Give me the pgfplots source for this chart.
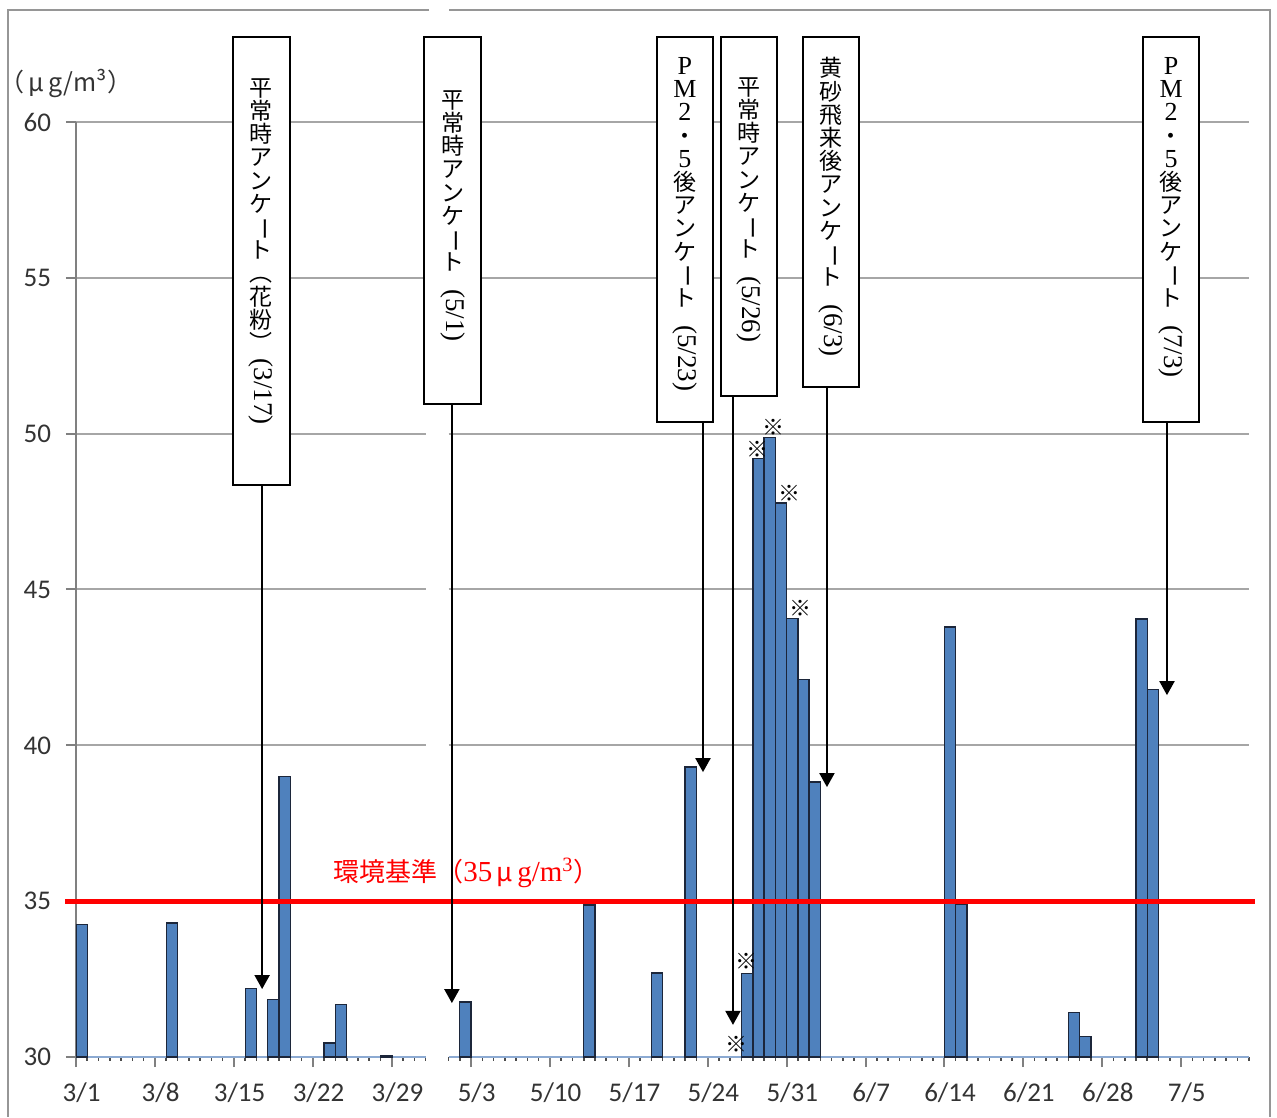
\documentclass[border=0pt]{standalone}
\usepackage{fontspec}
\setmainfont{Carlito}
\newfontfamily\cjk{Noto Sans CJK JP}
\newfontfamily\serif{Liberation Serif}
\usepackage{graphicx}
\usepackage{pgfplots}
\pgfplotsset{compat=1.18}
\usetikzlibrary{arrows.meta}

\definecolor{barblue}{RGB}{79,129,189}
\definecolor{baredge}{RGB}{28,38,58}
\definecolor{gridgray}{RGB}{166,166,166}
\definecolor{baseblue}{RGB}{140,170,210}
\definecolor{framegray}{RGB}{150,150,150}

% vertical writing helpers
\newcommand\vr[1]{\raisebox{0.8em}{\rotatebox{-90}{#1}}}
% rotated latin run, with a gap before it
\newcommand\lat[1]{\raisebox{0.2em}{\rotatebox{-90}{\serif\fontsize{13.5}{14}\selectfont #1}}}
% rotated latin run, tight
\newcommand\latt[1]{\raisebox{0.7em}{\rotatebox{-90}{\serif\fontsize{13.5}{14}\selectfont #1}}}
\newcommand\up[1]{{\serif\fontsize{13}{11.6}\selectfont #1}}

\pgfplotsset{
  common/.style={
    scale only axis, height=467.5pt,
    ymin=30, ymax=60, ytick={30,35,...,60},
    ymajorgrids, major grid style={gridgray, line width=1pt},
    tick align=outside, major tick length=5pt, minor tick length=1.8pt,
    major tick style={gray, line width=1pt},
    minor tick style={black!70, line width=0.8pt},
    axis x line*=bottom, x axis line style={baseblue, line width=1.2pt, -},
    ybar, bar width=1,
    tick label style={font=\fontsize{13.5}{16}\selectfont, text=black!80},
    /pgf/number format/assume math mode=true,
    xticklabel style={xshift=2.82pt, yshift=-4.5pt},
    yticklabel style={xshift=-4pt},
    clip mode=individual,
  },
  bars/.style={fill=barblue, draw=baredge, line width=0.7pt},
}
\tikzset{
  arr/.style={line width=1pt, -{Triangle[width=7.5pt,length=7pt]}},
  box/.style={draw=black, line width=1pt, fill=white},
  vtext/.style={font=\cjk\fontsize{11.5}{11.6}\selectfont, align=center,
    inner sep=0pt, anchor=north},
  kome/.style={font=\cjk\fontsize{11}{12}\selectfont, inner sep=0pt},
}

\begin{document}
\begin{tikzpicture}
\useasboundingbox (-38pt,-30pt) rectangle (600.5pt,528.5pt);

% March
\begin{axis}[common, width=174.84pt, xmin=0, xmax=31,
  axis y line*=left, y axis line style={gray, line width=1pt, -},
  xtick={0,7,14,21,28}, xticklabels={3/1,3/8,3/15,3/22,3/29},
  minor xtick={0,...,31}]
\addplot[bars] coordinates {(0.5,34.25) (8.5,34.3) (15.5,32.2) (17.5,31.85)
  (18.5,39.0) (22.5,30.45) (23.5,31.68) (27.5,30.05)};
\draw[red, line width=2.5pt] (axis cs:-0.975,35) -- (axis cs:31.2,35);
\draw[arr] (axis cs:16.5,48.35) -- (axis cs:16.5,32.18);
\draw[box] (axis cs:13.92,62.72) rectangle (axis cs:18.97,48.35);
\node[vtext] at (axis cs:16.44,61.41)
  {平\\常\\時\\ア\\ン\\ケ\\\vr{ー}\\ト\\︵\\花\\粉\\︶\\\latt{(3/17)}};
\node[red, anchor=west, inner sep=0pt, font=\cjk\fontsize{13}{15}\selectfont]
  at (axis cs:22.78,35.9)
  {環境基準（{\serif\fontsize{14.5}{16}\selectfont 35}\,μ\,{\serif\fontsize{14.5}{16}\selectfont g/m\textsuperscript{3}}）};
\node[font=\cjk\fontsize{12.5}{15}\selectfont, text=black!80, inner sep=0pt]
  at (axis cs:-0.9,61.25) {（\,μ\,g/m³）};
\end{axis}

% May - July
\begin{axis}[common, width=400.09pt, xmin=0, xmax=71,
  at={(186.25pt,0pt)}, anchor=south west,
  axis y line*=left, y axis line style={draw=none},
  ytick style={draw=none}, yticklabels={},
  xtick={2,9,...,65},
  xticklabels={5/3,5/10,5/17,5/24,5/31,6/7,6/14,6/21,6/28,7/5},
  minor xtick={0,...,71}]
\addplot[bars] coordinates {(1.5,31.76) (12.5,34.88) (18.5,32.7) (21.5,39.3)
  (26.5,32.68) (27.5,49.21) (28.5,49.87) (29.5,47.78) (30.5,44.07)
  (31.5,42.12) (32.5,38.82) (44.5,43.8) (45.5,34.91) (55.5,31.42)
  (56.5,30.65) (61.5,44.05) (62.5,41.8)};
\draw[red, line width=2.5pt] (axis cs:-1.82,35) -- (axis cs:71.56,35);
% marks
\node[kome] at (axis cs:25.51,30.39) {※};
\node[kome] at (axis cs:26.46,33.06) {※};
\node[kome] at (axis cs:27.46,49.51) {※};
\node[kome] at (axis cs:28.88,50.21) {※};
\node[kome] at (axis cs:30.30,48.09) {※};
\node[kome] at (axis cs:31.25,44.40) {※};
% arrows
\draw[arr] (axis cs:0.3,50.95) -- (axis cs:0.3,31.73);
\draw[arr] (axis cs:22.58,50.37) -- (axis cs:22.58,39.14);
\draw[arr] (axis cs:25.24,51.21) -- (axis cs:25.24,31.03);
\draw[arr] (axis cs:33.58,51.5) -- (axis cs:33.58,38.66);
\draw[arr] (axis cs:63.75,50.37) -- (axis cs:63.75,41.61);
% boxes
\draw[box] (axis cs:-2.17,62.72) rectangle (axis cs:2.88,50.95);
\node[vtext] at (axis cs:0.36,61.02)
  {平\\常\\時\\ア\\ン\\ケ\\\vr{ー}\\ト\\\lat{(5/1)}};
\draw[box] (axis cs:18.5,62.72) rectangle (axis cs:23.47,50.37);
\node[vtext] at (axis cs:20.98,62.08)
  {\up{P}\\\up{M}\\\up{2}\\・\\\up{5}\\後\\ア\\ン\\ケ\\\vr{ー}\\ト\\\lat{(5/23)}};
\draw[box] (axis cs:24.18,62.72) rectangle (axis cs:29.15,51.21);
\node[vtext] at (axis cs:26.67,61.44)
  {平\\常\\時\\ア\\ン\\ケ\\\vr{ー}\\ト\\\lat{(5/26)}};
\draw[box] (axis cs:31.45,62.72) rectangle (axis cs:36.42,51.5);
\node[vtext] at (axis cs:33.94,62.08)
  {黄\\砂\\飛\\来\\後\\ア\\ン\\ケ\\\vr{ー}\\ト\\\lat{(6/3)}};
\draw[box] (axis cs:61.63,62.72) rectangle (axis cs:66.61,50.37);
\node[vtext] at (axis cs:64.12,62.08)
  {\up{P}\\\up{M}\\\up{2}\\・\\\up{5}\\後\\ア\\ン\\ケ\\\vr{ー}\\ト\\\lat{(7/3)}};
\end{axis}

% outer frame with the break at the top
\draw[framegray, line width=1pt] (176.5pt,523.5pt) -- (-34pt,523.5pt)
  -- (-34pt,-30pt);
\draw[framegray, line width=1pt] (186.5pt,523.5pt) -- (597pt,523.5pt)
  -- (597pt,-30pt);
\end{tikzpicture}
\end{document}
